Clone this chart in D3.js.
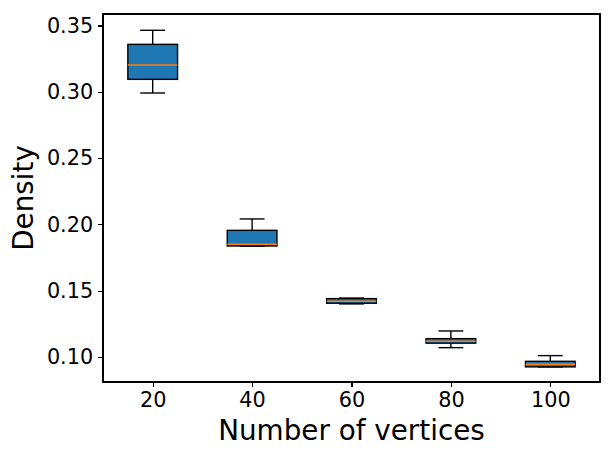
<!DOCTYPE html>
<html>
<head>
<meta charset="utf-8">
<script src="https://cdn.jsdelivr.net/npm/d3@7"></script>
<style>
  body { margin: 0; background: #fff; }
  text { font-family: "DejaVu Sans", sans-serif; fill: #000; }
</style>
</head>
<body>
<div id="chart"></div>
<script>
// data
var vertices = [20, 40, 60, 80, 100];
var whiskerLow = [0.2991, 0.1836, 0.1400, 0.1070, 0.0925];
var q1 = [0.3094, 0.1837, 0.1405, 0.1104, 0.0925];
var median = [0.3202, 0.1850, 0.1421, 0.1119, 0.0944];
var q3 = [0.3358, 0.1955, 0.1440, 0.1138, 0.0967];
var whiskerHigh = [0.3464, 0.2041, 0.1444, 0.1196, 0.1010];
var yTicks = [0.10, 0.15, 0.20, 0.25, 0.30, 0.35];
var xTicks = [20, 40, 60, 80, 100];

var W = 612, H = 456;
var margin = { top: 14, left: 103, bottom: 74, right: 12 },
    width = W - margin.left - margin.right,
    height = H - margin.top - margin.bottom;

var svg = d3.select('#chart').append('svg')
    .attr('width', W)
    .attr('height', H);

var g = svg.append('g')
    .attr('transform', 'translate(' + margin.left + ',' + margin.top + ')');

var x = d3.scaleLinear().domain([10, 110]).range([0, width]);
var y = d3.scaleLinear().domain([0.0811, 0.3587]).range([height, 0]);

var boxW = 10, capW = 5;

var data = vertices.map((v, i) => ({
    v: v, lo: whiskerLow[i], q1: q1[i], med: median[i], q3: q3[i], hi: whiskerHigh[i]
}));

var boxes = g.selectAll('.box')
    .data(data)
    .enter()
    .append('g')
    .attr('class', 'box');

// whiskers
boxes.append('line')
    .attr('x1', d => x(d.v)).attr('x2', d => x(d.v))
    .attr('y1', d => y(d.hi)).attr('y2', d => y(d.q3))
    .attr('stroke', '#000').attr('stroke-width', 1.4);
boxes.append('line')
    .attr('x1', d => x(d.v)).attr('x2', d => x(d.v))
    .attr('y1', d => y(d.q1)).attr('y2', d => y(d.lo))
    .attr('stroke', '#000').attr('stroke-width', 1.4);

// caps
boxes.append('line')
    .attr('x1', d => x(d.v - capW / 2)).attr('x2', d => x(d.v + capW / 2))
    .attr('y1', d => y(d.hi)).attr('y2', d => y(d.hi))
    .attr('stroke', '#000').attr('stroke-width', 1.4);
boxes.append('line')
    .attr('x1', d => x(d.v - capW / 2)).attr('x2', d => x(d.v + capW / 2))
    .attr('y1', d => y(d.lo)).attr('y2', d => y(d.lo))
    .attr('stroke', '#000').attr('stroke-width', 1.4);

// box
boxes.append('rect')
    .attr('x', d => x(d.v - boxW / 2))
    .attr('width', d => x(d.v + boxW / 2) - x(d.v - boxW / 2))
    .attr('y', d => y(d.q3))
    .attr('height', d => Math.max(y(d.q1) - y(d.q3), 0.5))
    .attr('fill', '#1f77b4')
    .attr('stroke', '#000')
    .attr('stroke-width', 1.4);

// median
boxes.append('line')
    .attr('x1', d => x(d.v - boxW / 2)).attr('x2', d => x(d.v + boxW / 2))
    .attr('y1', d => y(d.med)).attr('y2', d => y(d.med))
    .attr('stroke', '#ff7f0e').attr('stroke-width', 1.5);

// axes
var xAxis = d3.axisBottom(x).tickValues(xTicks).tickSize(4.9).tickPadding(4.9)
    .tickFormat(d3.format('d'));
var yAxis = d3.axisLeft(y).tickValues(yTicks).tickSize(4.9).tickPadding(4.9)
    .tickFormat(d3.format('.2f'));

var gx = g.append('g')
    .attr('transform', 'translate(0,' + height + ')')
    .call(xAxis);
var gy = g.append('g').call(yAxis);

[gx, gy].forEach(a => {
    a.select('.domain').remove();
    a.selectAll('line').attr('stroke', '#000').attr('stroke-width', 1.1)
        .attr('shape-rendering', 'crispEdges');
    a.selectAll('text').style('font-size', '20.8px').attr('font-family', 'DejaVu Sans');
});

// frame
g.append('rect')
    .attr('width', width).attr('height', height)
    .attr('fill', 'none').attr('stroke', '#000').attr('stroke-width', 1.1)
    .attr('shape-rendering', 'crispEdges');

// labels
svg.append('text')
    .attr('x', margin.left + width / 2)
    .attr('y', 440)
    .attr('text-anchor', 'middle')
    .style('font-size', '27.8px')
    .text('Number of vertices');

svg.append('text')
    .attr('transform', 'translate(33,' + (margin.top + height / 2) + ') rotate(-90)')
    .attr('text-anchor', 'middle')
    .style('font-size', '27.8px')
    .text('Density');
</script>
</body>
</html>
